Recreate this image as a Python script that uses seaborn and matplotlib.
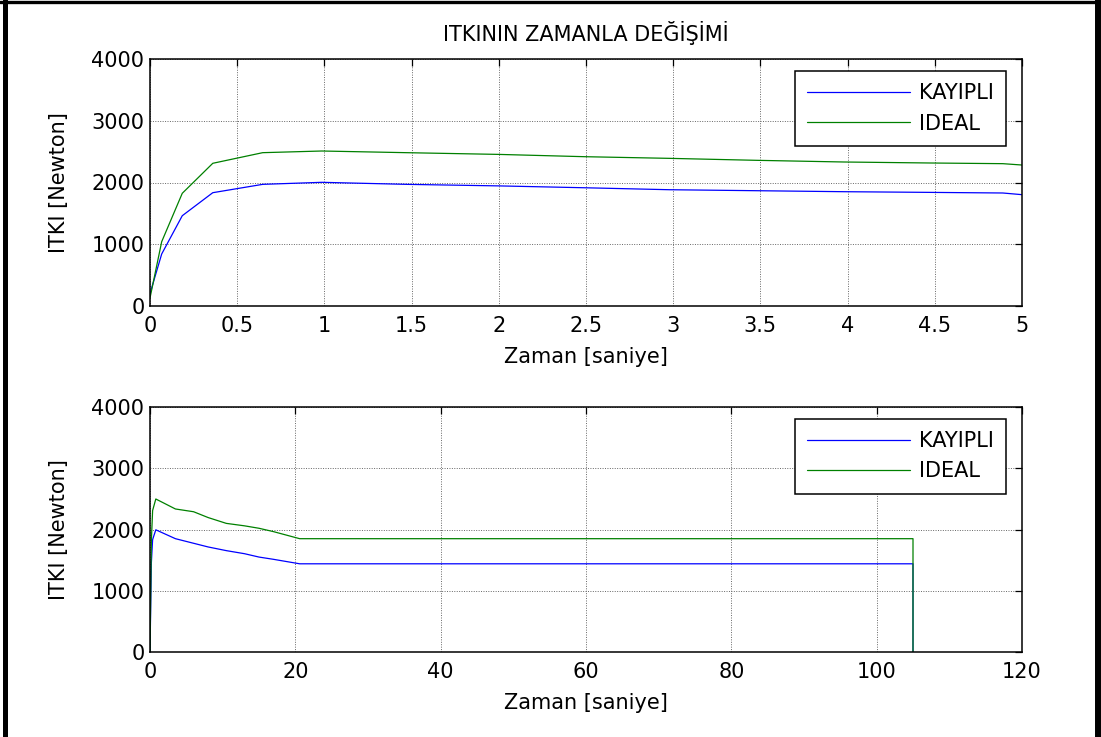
import numpy as np
import pandas as pd
import matplotlib
matplotlib.use("Agg")
import matplotlib.pyplot as plt
import seaborn as sns
from matplotlib.lines import Line2D

# ---- data ----
t_top = [0, 0.067, 0.185, 0.36, 0.646, 0.985, 1.47, 2.0, 2.49, 2.98, 3.48, 3.98, 4.47, 4.89, 5.0]
kayipli_top = [200, 842, 1462, 1835, 1970, 2003, 1970, 1945, 1915, 1883, 1867, 1851, 1840, 1830, 1803]
ideal_top = [130, 1041, 1825, 2311, 2483, 2510, 2483, 2455, 2418, 2391, 2359, 2332, 2316, 2305, 2283]

t_bot = [0, 0.19, 0.36, 0.8, 3.5, 6.0, 8.0, 10.5, 13.0, 15.0, 17.0, 20.6, 105.0, 105.0]
kayipli_bot = [0, 1460, 1835, 1995, 1850, 1775, 1715, 1655, 1605, 1550, 1513, 1440, 1440, 0]
ideal_bot = [0, 1825, 2310, 2498, 2335, 2290, 2195, 2100, 2060, 2020, 1965, 1850, 1850, 0]

series_names = ["KAYIPLI", "IDEAL"]
series_colors = ["#0000FF", "#008000"]
title_text = "ITKININ ZAMANLA DEĞİŞİMİ"
xlabel_text = "Zaman [saniye]"
ylabel_text = "ITKI [Newton]"
yticks = [0, 1000, 2000, 3000, 4000]
xticks_top = [0, 0.5, 1, 1.5, 2, 2.5, 3, 3.5, 4, 4.5, 5]
xtick_labels_top = ["0", "0.5", "1", "1.5", "2", "2.5", "3", "3.5", "4", "4.5", "5"]
xticks_bot = [0, 20, 40, 60, 80, 100, 120]


def make_df(t, a, b):
    n = len(t)
    return pd.DataFrame({
        "t": list(t) + list(t),
        "v": list(a) + list(b),
        "s": [series_names[0]] * n + [series_names[1]] * n,
    })


df_top = make_df(t_top, kayipli_top, ideal_top)
df_bot = make_df(t_bot, kayipli_bot, ideal_bot)

sns.set_style("white")
plt.rcParams["font.family"] = ["DejaVu Sans"]
plt.rcParams["text.color"] = "black"
plt.rcParams["axes.labelcolor"] = "black"
FS = 15

W, H = 1101, 737
fig = plt.figure(figsize=(W / 100, H / 100), dpi=100)


def ax_rect(l, t, r, b):
    return [l / W, 1 - b / H, (r - l) / W, (b - t) / H]


ax1 = fig.add_axes(ax_rect(150, 59, 1022, 306))
ax2 = fig.add_axes(ax_rect(150, 407, 1022, 652))

palette = dict(zip(series_names, series_colors))

for ax, df, xlim, xt in [(ax1, df_top, (0, 5), xticks_top), (ax2, df_bot, (0, 120), xticks_bot)]:
    sns.lineplot(data=df, x="t", y="v", hue="s", palette=palette, sort=False,
                 estimator=None, units="s", linewidth=0.9, ax=ax, legend=True)
    ax.set_xlim(*xlim)
    ax.set_ylim(0, 4000)
    ax.set_xticks(xt)
    ax.set_yticks(yticks)
    ax.set_yticklabels([str(v) for v in yticks])
    ax.grid(True, linestyle=(0, (1, 1.5)), color="0.4", linewidth=0.7)
    ax.tick_params(direction="in", top=True, right=True, length=5, width=0.9,
                   labelsize=FS, colors="black")
    ax.tick_params(axis="x", pad=7)
    ax.tick_params(axis="y", pad=4)
    for sp in ax.spines.values():
        sp.set_color("black")
        sp.set_linewidth(1.1)
    ax.set_xlabel(xlabel_text, fontsize=FS, labelpad=8, color="black")
    ax.set_ylabel(ylabel_text, fontsize=FS, labelpad=16, color="black")
    leg = ax.legend(loc="upper right", bbox_to_anchor=(0.982, 0.953), borderaxespad=0,
                    fontsize=FS, frameon=True, fancybox=False, edgecolor="black",
                    framealpha=1, handlelength=4.9, handletextpad=0.45,
                    labelspacing=0.5, borderpad=0.6)
    leg.get_frame().set_linewidth(1.1)
    for txt in leg.get_texts():
        txt.set_color("black")
    for line in leg.get_lines():
        line.set_linewidth(0.9)

ax1.set_xticklabels(xtick_labels_top)
ax1.set_title(title_text, fontsize=15, pad=13, color="black")

# figure frame (left, top, right)
fig.add_artist(Line2D([5 / W, 5 / W], [0, 1], transform=fig.transFigure, color="black", linewidth=3.6))
fig.add_artist(Line2D([0, 1], [1 - 1.5 / H, 1 - 1.5 / H], transform=fig.transFigure, color="black", linewidth=2.4))
fig.add_artist(Line2D([1098 / W, 1098 / W], [0, 1], transform=fig.transFigure, color="black", linewidth=4.3))

fig.savefig("out.png", dpi=100)
